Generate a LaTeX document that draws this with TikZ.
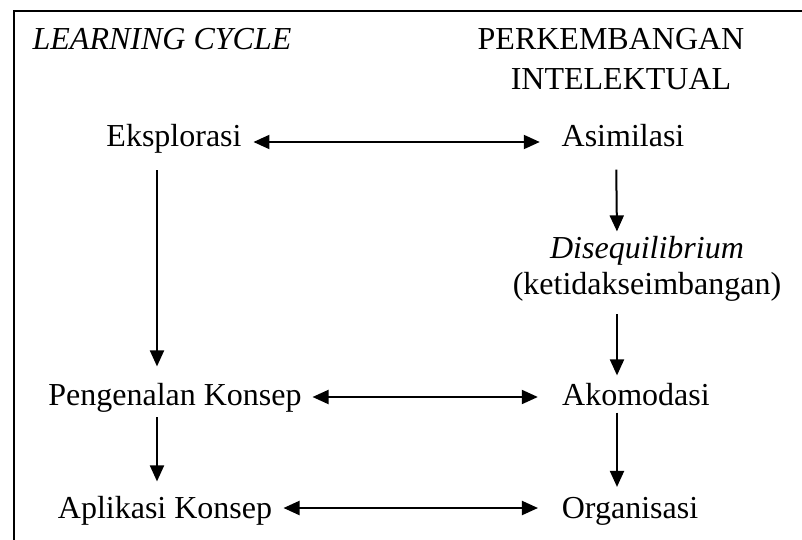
\documentclass[tikz,border=0pt]{standalone}
\usepackage{fontspec}
\setmainfont{Liberation Serif}
\usetikzlibrary{arrows.meta,calc}

\begin{document}
\begin{tikzpicture}[x=0.5pt,y=-0.5pt,font=\fontsize{16pt}{18pt}\selectfont,>={Triangle[length=8pt,width=7pt]},
 lbl/.style={anchor=base,inner sep=0pt},
 link/.style={->,line width=1pt}]
\useasboundingbox (0,0) rectangle (802,540);
\draw[line width=1pt] (14,560) -- (14,11) -- (820,11);
\node[lbl] (lc) at (162,50) {\textit{LEARNING CYCLE}};
\node[lbl,align=center] (pi) at (611,90) {PERKEMBANGAN\\[2pt]\hspace*{10pt}INTELEKTUAL};
\node[lbl] (eks) at (174,147) {Eksplorasi};
\node[lbl] (asi) at (623,147) {Asimilasi};
\node[lbl,align=center] (dis) at (647,294) {\textit{Disequilibrium}\\(ketidakseimbangan)};
\node[lbl] (pk) at (175,405) {Pengenalan Konsep};
\node[lbl] (ako) at (636,405) {Akomodasi};
\node[lbl] (ak) at (165,518) {Aplikasi Konsep};
\node[lbl] (org) at (630,518) {Organisasi};
% mendatar
\draw[link,<->] ([shift={(5.75pt,2.5pt)}]eks.base east) -- ([shift={(-10.75pt,2.5pt)}]asi.base west);
\draw[link,<->] ([shift={(5.25pt,4pt)}]pk.base east) -- ([shift={(-12pt,4pt)}]ako.base west);
\draw[link,<->] ([shift={(5.5pt,5pt)}]ak.base east) -- ([shift={(-11.75pt,5pt)}]org.base west);
% menurun
\draw[link,shorten <=8pt,shorten >=8pt] ([xshift=-8.5pt]eks.south) -- ([xshift=-8.5pt]eks.south |- pk.north);
\draw[link,shorten <=2.5pt,shorten >=7pt] ([xshift=-9pt]pk.south) -- ([xshift=-9pt]pk.south |- ak.north);
\draw[link,shorten <=11pt,shorten >=2pt] ([xshift=-3.5pt]asi.south) -- ([xshift=-15pt]dis.north);
\draw[link,shorten <=6.5pt,shorten >=3.5pt] ([xshift=-15pt]dis.south) -- ([xshift=-15pt]dis.south |- ako.north);
\draw[link,shorten <=3.5pt,shorten >=4.75pt] ([xshift=-9.5pt]ako.south) -- ([xshift=-9.5pt]ako.south |- org.north);
\end{tikzpicture}
\end{document}
